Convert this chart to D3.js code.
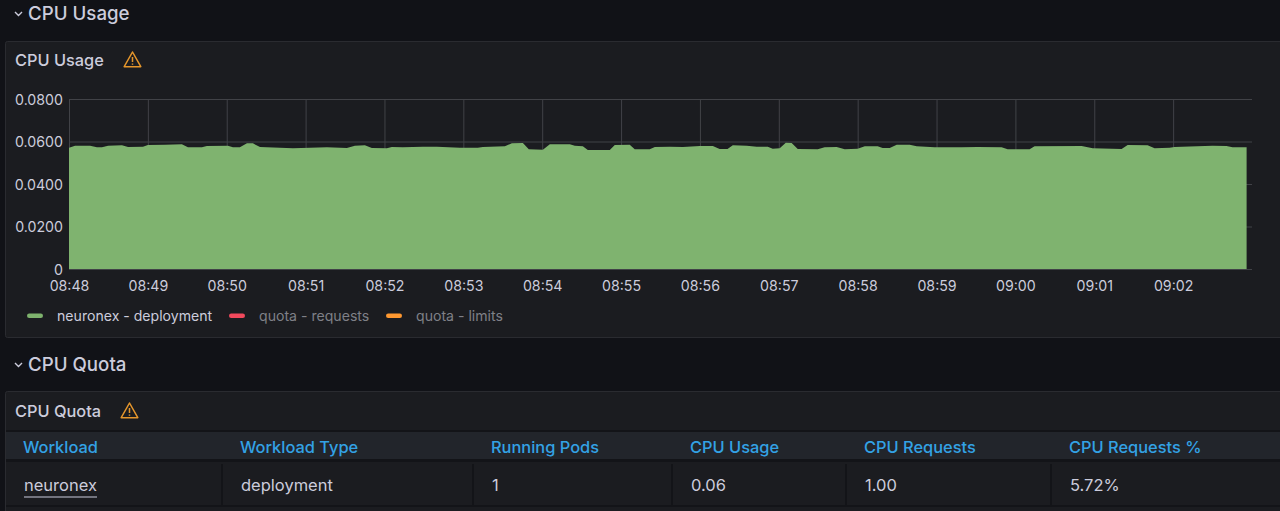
<!DOCTYPE html>
<html><head><meta charset="utf-8">
<script src="https://cdn.jsdelivr.net/npm/d3@7/dist/d3.min.js"></script>
<style>
html,body{margin:0;padding:0;background:#111217;overflow:hidden}
svg{display:block}
text{font-family:Inter,"Noto Sans",sans-serif}
</style></head><body><div id="c"></div>
<script>
const seconds=[0,4.6,16,21.3,25.1,29.7,40.3,44.9,56.3,60,73,85.9,90.5,101.1,104.9,120.9,124.7,130,135.4,139.9,145.3,160.5,170.4,183.3,196.2,211.4,217.5,225.1,230.4,241.8,245.6,254,269.2,279.9,297.4,311,314.8,331.6,336.9,345.3,349.8,360.5,365.8,381,384.8,390.9,394.7,411.4,415.2,426.6,430.4,441.8,445.7,457,467,480,489.8,495,501,505,515.6,523.2,531.6,535.4,540.7,545.3,549.8,554.4,569.6,574.9,584,590.2,600,605.4,615.2,619,624.4,629.7,639.6,644.9,658.6,679.1,691.3,709.5,714.1,730.8,734.6,770.4,778.8,800.8,805.4,820.6,825.9,837.3,841.1,870,880.6,885.2,895.9];
const cpuUsage=[.05708,.05802,.05802,.05727,.05727,.05802,.05821,.05741,.05755,.05835,.05849,.05868,.05727,.05727,.05788,.05802,.05727,.05727,.05915,.05915,.05741,.05708,.0568,.05708,.05727,.05694,.05802,.05821,.05694,.0568,.05741,.05727,.05755,.05755,.05708,.05708,.05741,.05774,.05915,.05929,.05633,.05614,.05868,.05868,.05802,.05774,.056,.056,.05835,.05849,.05633,.05633,.05741,.05755,.05741,.05788,.05788,.05647,.05647,.05821,.05802,.05755,.05755,.05661,.0568,.05944,.05929,.05647,.05633,.05727,.05741,.05633,.05661,.05774,.05774,.05694,.05694,.05849,.05849,.05774,.05727,.05727,.05741,.05727,.05633,.05633,.05774,.05788,.0568,.05647,.05835,.05821,.0568,.05708,.05741,.05802,.05788,.05727,.05727];
const yTicks=[0,.02,.04,.06,.08];
const legendNames=["neuronex - deployment","quota - requests","quota - limits"];
const legendColors=["#7eb26d","#f2495c","#ff9830"];
const tableHeaders=["Workload","Workload Type","Running Pods","CPU Usage","CPU Requests","CPU Requests %"];
const tableRow=["neuronex","deployment","1","0.06","1.00","5.72%"];
const columnLefts=[5,222,473,672,846,1051];

const W=1280,H=511;
const svg=d3.select("#c").append("svg").attr("width",W).attr("height",H);
const panelFill="#1b1c20",edge="#2a2b30",txt="#ccccdc";

function panel(y,h){svg.append("rect").attr("x",5.5).attr("y",y+.5).attr("width",W).attr("height",h).attr("rx",2).attr("fill",panelFill).attr("stroke",edge);}
function section(label,y){
  svg.append("path").attr("d",`M15 ${y-1}l3.5 3.5 3.5-3.5`).attr("fill","none").attr("stroke",txt).attr("stroke-width",1.4);
  svg.append("text").attr("x",28).attr("y",y+7).attr("fill",txt).attr("font-size",18.7).attr("font-weight",500).text(label);
}
function warn(x,y){
  const g=svg.append("g").attr("transform",`translate(${x},${y})`).attr("fill","none").attr("stroke","#e5962c").attr("stroke-width",1.5).attr("stroke-linejoin","round");
  g.append("path").attr("d","M8.5 0.5L16.8 15.2H0.2Z");
  g.append("path").attr("d","M8.5 5.5V10.5M8.5 12V13.2");
}
function title(label,y,wx){
  svg.append("text").attr("x",15).attr("y",y).attr("fill",txt).attr("font-size",16.35).attr("font-weight",500).text(label);
  warn(wx,y-14.5);
}

section("CPU Usage",13);
panel(41,296);
title("CPU Usage",66,124);
section("CPU Quota",364);
panel(391,130);
title("CPU Quota",417,121);

// chart
const t0=Date.UTC(2024,0,1,8,48);
const x=d3.scaleUtc().domain([t0,t0+15*60000]).range([69,1252]);
const y=d3.scaleLinear().domain([0,.08]).range([269,99]);
const data=seconds.map((s,i)=>({t:t0+s*1000,v:cpuUsage[i]}));

const xAxis=d3.axisBottom(x).ticks(d3.utcMinute.every(1)).tickFormat(d3.utcFormat("%H:%M")).tickSize(-170).tickPadding(12);
const yAxis=d3.axisLeft(y).tickValues(yTicks).tickFormat(d=>d===0?"0":d3.format(".4f")(d)).tickSize(-1183).tickPadding(6);
const gx=svg.append("g").attr("transform","translate(0,269)").call(xAxis);
const gy=svg.append("g").attr("transform","translate(69,0)").call(yAxis);
[gx,gy].forEach(g=>{
  g.select(".domain").remove();
  g.selectAll("line").attr("stroke","#414247").attr("stroke-width",1);
  g.selectAll("text").attr("fill",txt).attr("font-size",14.2);
});
gy.selectAll("text").attr("dy","0.36em");
gx.selectAll(".tick").filter(d=>+d>=t0+15*60000).remove();
svg.append("path").datum(data)
  .attr("d",d3.area().x(d=>x(d.t)).y0(y(0)).y1(d=>y(d.v)))
  .attr("fill","#7fb36f");

// legend
const legendX=[27,229,386];
legendNames.forEach((n,i)=>{
  svg.append("rect").attr("x",legendX[i]).attr("y",313.5).attr("width",16).attr("height",4.5).attr("rx",2.2).attr("fill",legendColors[i]);
  svg.append("text").attr("x",legendX[i]+30).attr("y",320.5).attr("font-size",14.1)
    .attr("fill",i?"#7f8087":txt).text(n);
});

// table
svg.append("rect").attr("x",6).attr("y",430).attr("width",W).attr("height",2.5).attr("fill","#131418");
svg.append("rect").attr("x",6).attr("y",432).attr("width",W).attr("height",27).attr("fill","#22252b");
svg.append("rect").attr("x",6).attr("y",459).attr("width",W).attr("height",3).attr("fill","#131418");
svg.append("rect").attr("x",6).attr("y",505).attr("width",W).attr("height",2).attr("fill","#131418");
const textX=[23,240,491,690,864,1069];
tableHeaders.forEach((h,i)=>{
  svg.append("text").attr("x",textX[i]).attr("y",452.5).attr("fill","#33a2e5").attr("font-size",16.4).attr("font-weight",500).text(h);
  svg.append("text").attr("x",textX[i]+(i?1:1)).attr("y",490.5).attr("fill",txt).attr("font-size",16.5).text(tableRow[i]);
  if(i) svg.append("rect").attr("x",columnLefts[i]-1).attr("y",464).attr("width",2).attr("height",41).attr("fill","#131418");
});
svg.append("line").attr("x1",24).attr("x2",97).attr("y1",497).attr("y2",497).attr("stroke",txt).attr("stroke-width",1);
</script></body></html>
